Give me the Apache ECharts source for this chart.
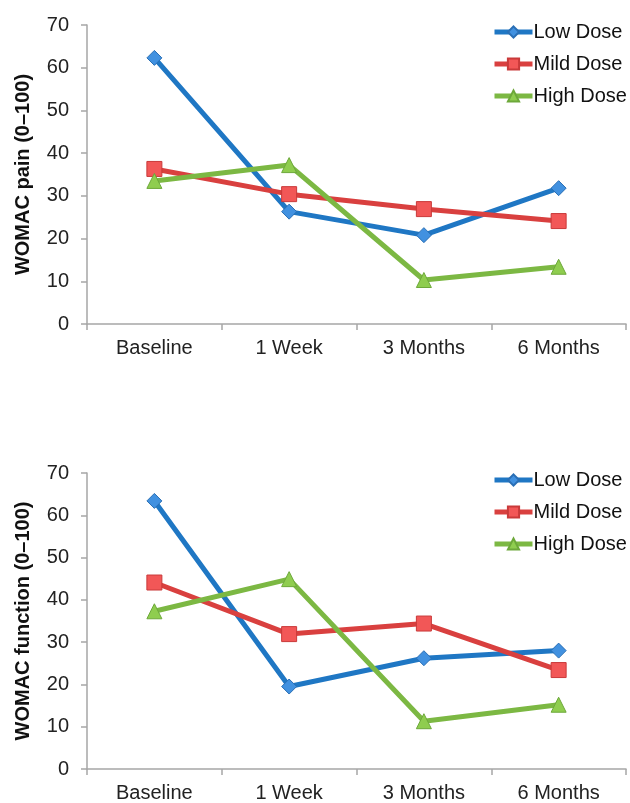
<!DOCTYPE html>
<html>
<head>
<meta charset="utf-8">
<script src="https://cdn.jsdelivr.net/npm/echarts@6/dist/echarts.min.js"></script>
<style>
html,body{margin:0;padding:0;background:#fff;}
#c{width:630px;height:803px;}
</style>
</head>
<body>
<div id="c"></div>
<script>
var categories = ['Baseline', '1 Week', '3 Months', '6 Months'];
var seriesNames = ['Low Dose', 'Mild Dose', 'High Dose'];
var painLow = [62.3, 26.3, 20.8, 31.8];
var painMild = [36.3, 30.4, 26.9, 24.1];
var painHigh = [33.5, 37.2, 10.3, 13.4];
var funcLow = [63.4, 19.5, 26.2, 28.0];
var funcMild = [44.1, 31.9, 34.4, 23.4];
var funcHigh = [37.3, 44.9, 11.3, 15.2];
var yTicks = [0, 10, 20, 30, 40, 50, 60, 70];
var axisTitles = ['WOMAC pain (0\u2013100)', 'WOMAC function (0\u2013100)'];

var FONT = '"Liberation Sans", Arial, sans-serif';
var styles = [
  {symbol: 'diamond', size: 15, line: '#1f77c4', fill: '#4191e0', border: '#2a6fb5'},
  {symbol: 'rect', size: 15, line: '#d9403f', fill: '#f25757', border: '#c93a3a'},
  {symbol: 'triangle', size: 15, line: '#7cb843', fill: '#8fcd4f', border: '#6da83a'}
];

function mkSeries(name, data, idx, st) {
  return {
    name: name, type: 'line', xAxisIndex: idx, yAxisIndex: idx, data: data,
    symbol: st.symbol, symbolSize: st.size,
    lineStyle: {color: st.line, width: 5},
    itemStyle: {color: st.fill, borderColor: st.border, borderWidth: 1},
    emphasis: {disabled: true},
    animation: false
  };
}

var grids = [
  {left: 87, right: 4, top: 25, height: 299},
  {left: 87, right: 4, top: 473, height: 299}
];

function mkX(idx) {
  return {
    type: 'category', gridIndex: idx, data: categories, boundaryGap: true,
    axisLine: {lineStyle: {color: '#a6a6a6', width: 1.5}},
    axisTick: {show: true, length: 6, alignWithLabel: false, lineStyle: {color: '#a6a6a6', width: 1.5}},
    axisLabel: {fontFamily: FONT, fontSize: 20, color: '#222', margin: 14}
  };
}
function mkY(idx) {
  return {
    type: 'value', gridIndex: idx, min: yTicks[0], max: yTicks[yTicks.length - 1], interval: 10,
    name: axisTitles[idx], nameLocation: 'middle', nameGap: 54, nameRotate: 90,
    nameTextStyle: {fontFamily: FONT, fontSize: 20, fontWeight: 'bold', color: '#111'},
    axisLine: {show: true, lineStyle: {color: '#a6a6a6', width: 1.5}},
    axisTick: {show: true, length: 6, lineStyle: {color: '#a6a6a6', width: 1.5}},
    splitLine: {show: false},
    axisLabel: {fontFamily: FONT, fontSize: 20, color: '#222', margin: 18}
  };
}

function mkLegend(top) {
  return {
    orient: 'vertical', left: 487, top: top, itemWidth: 38, itemHeight: 14, itemGap: 12,
    data: seriesNames, selectedMode: false,
    lineStyle: {width: 5},
    textStyle: {fontFamily: FONT, fontSize: 20, color: '#111', padding: [0, 0, 0, -4]}
  };
}

var option = {
  backgroundColor: '#fff',
  animation: false,
  legend: [mkLegend(17), mkLegend(465)],
  grid: grids,
  xAxis: [mkX(0), mkX(1)],
  yAxis: [mkY(0), mkY(1)],
  series: [
    mkSeries(seriesNames[0], painLow, 0, styles[0]),
    mkSeries(seriesNames[1], painMild, 0, styles[1]),
    mkSeries(seriesNames[2], painHigh, 0, styles[2]),
    mkSeries(seriesNames[0], funcLow, 1, styles[0]),
    mkSeries(seriesNames[1], funcMild, 1, styles[1]),
    mkSeries(seriesNames[2], funcHigh, 1, styles[2])
  ]
};
var chart = echarts.init(document.getElementById('c'));
chart.setOption(option);
</script>
</body>
</html>
